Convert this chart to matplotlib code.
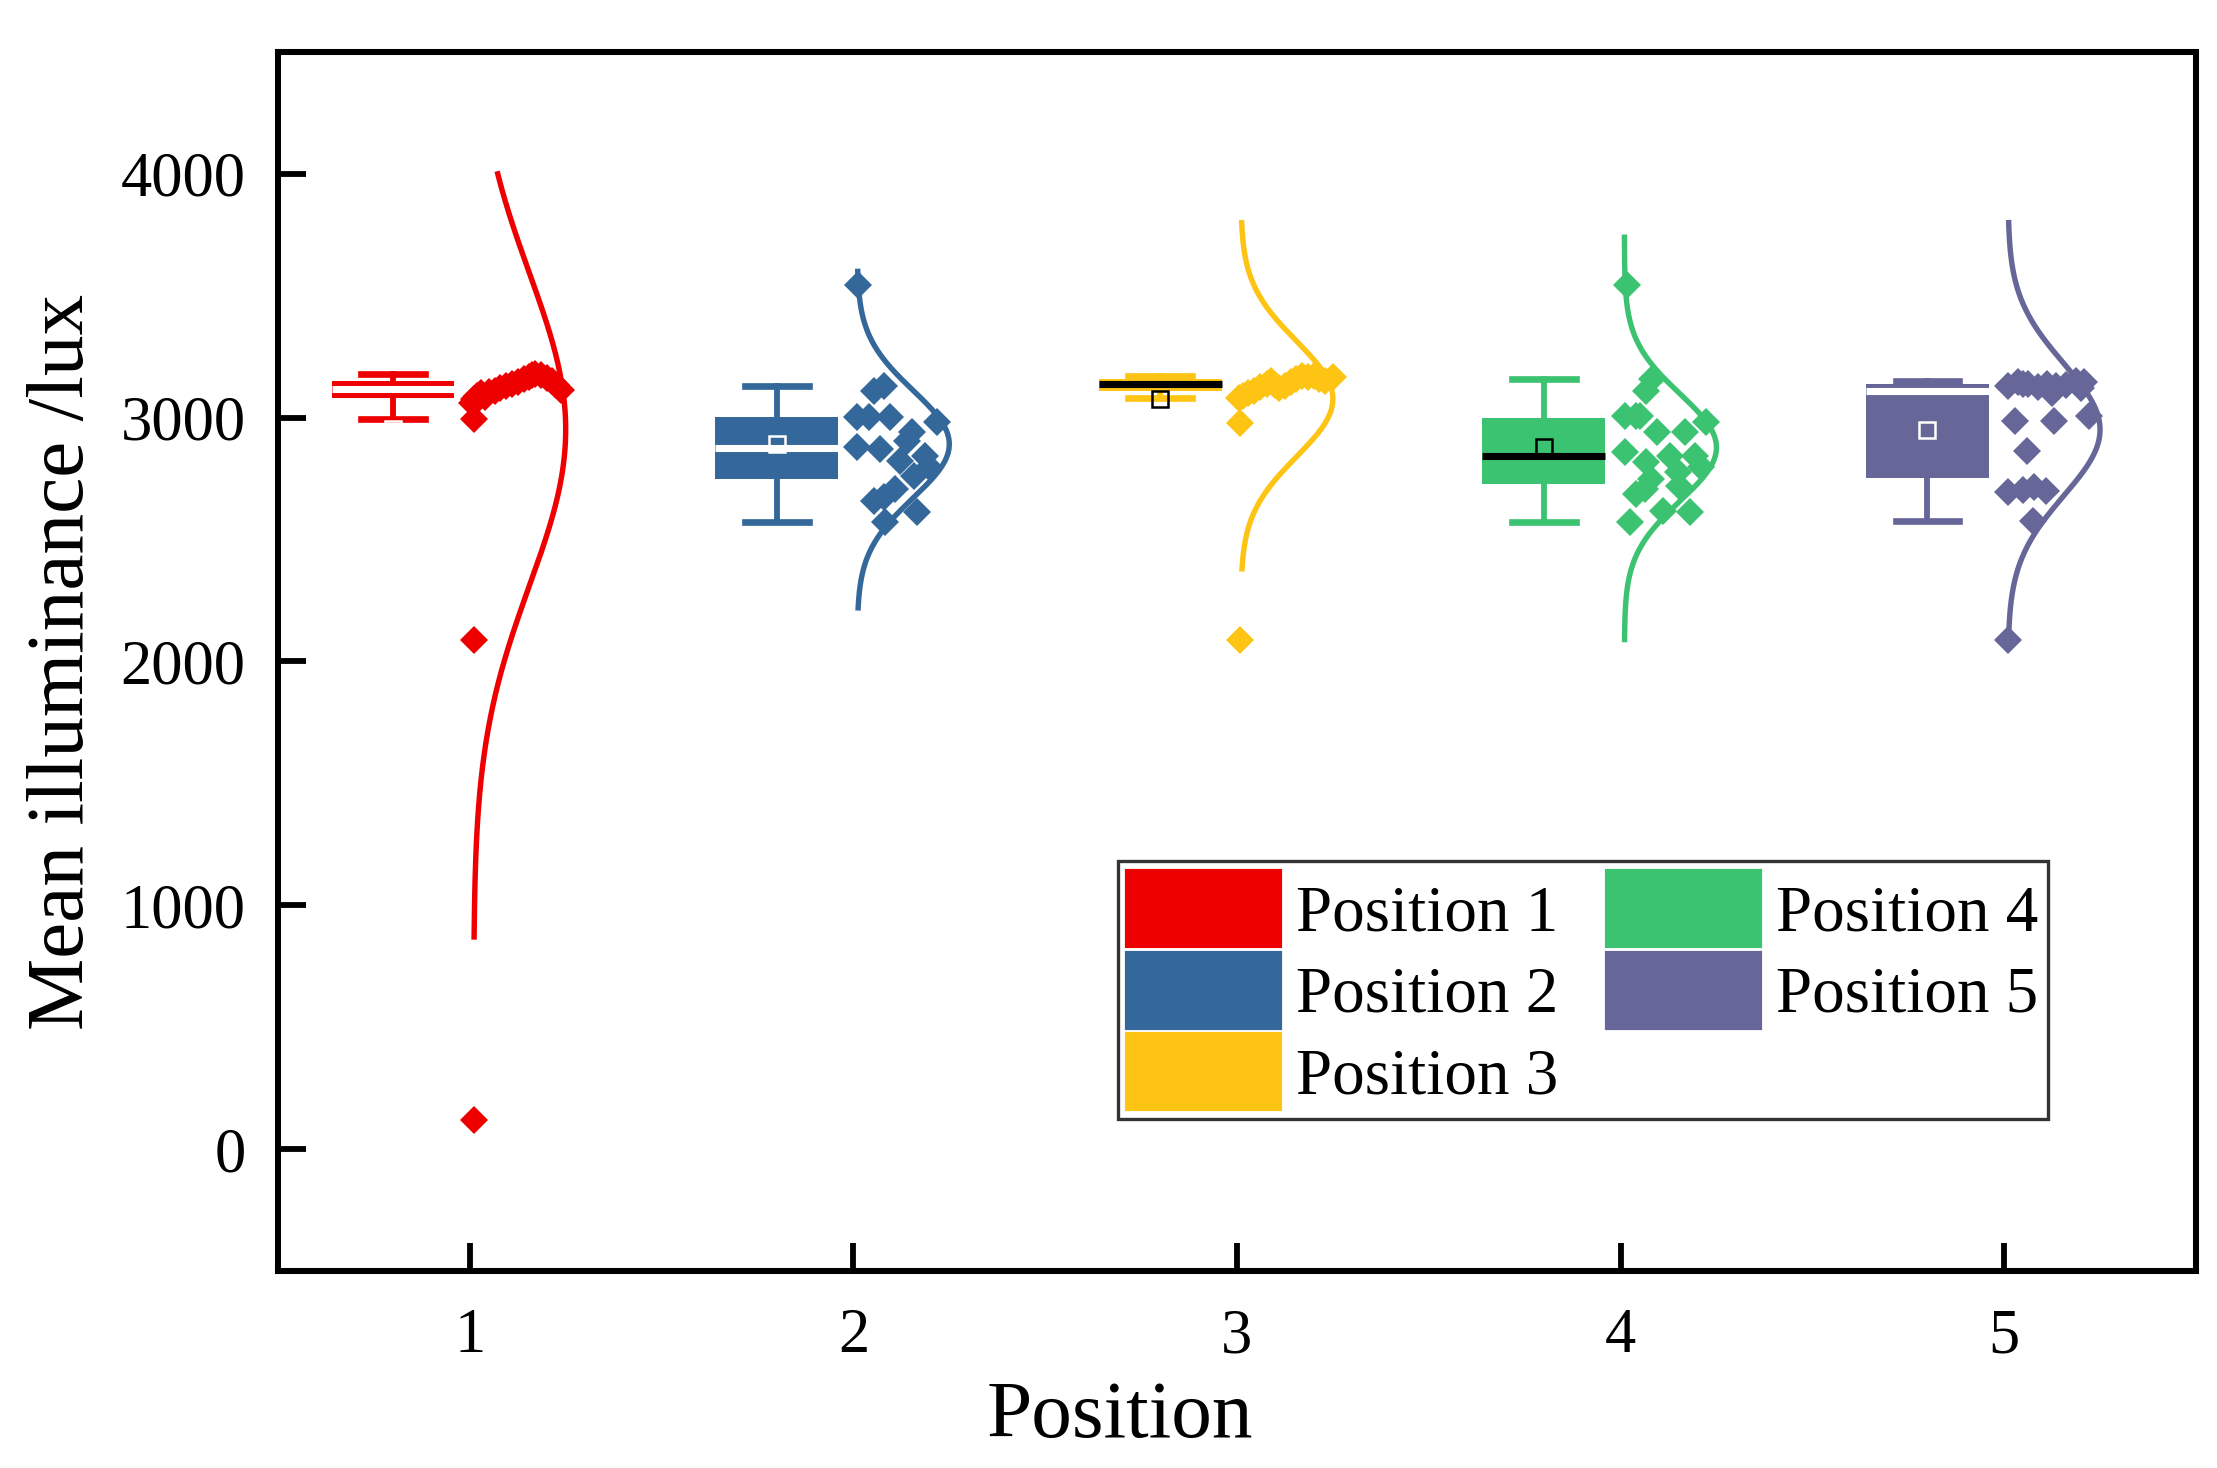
import numpy as np
import matplotlib.pyplot as plt
from matplotlib.patches import Patch

plt.rcParams['font.family'] = ['Liberation Serif', 'DejaVu Serif']

# ---- data ----
positions = [1, 2, 3, 4, 5]
labels = ['Position 1', 'Position 2', 'Position 3', 'Position 4', 'Position 5']

pos1_vals = [3060, 3075, 3090, 3070, 3100, 3085, 3105, 3110, 3120, 3128, 3138,
             3148, 3158, 3168, 3176, 3180, 3174, 3162, 3150, 3135, 3112,
             2995, 2090, 120]
pos2_vals = [3546, 3110, 3130, 3001, 3001, 3001, 2942, 2983, 2878, 2871, 2824,
             2844, 2797, 2762, 2708, 2660, 2674, 2615, 2572, 2905]
pos3_vals = [3080, 3090, 3100, 3110, 3125, 3140, 3150, 3135, 3120, 3130, 3145,
             3160, 3170, 3165, 3172, 3160, 3150, 3165, 2980, 2090]
pos4_vals = [3546, 3160, 3110, 3005, 3005, 3005, 2942, 2942, 2983, 2860, 2820,
             2844, 2844, 2797, 2776, 2749, 2688, 2708, 2721, 2619, 2615, 2572]
pos5_vals = [3130, 3145, 3140, 3125, 3140, 3100, 3130, 3135, 3150, 3120, 3145, 3138,
             2987, 2987, 3008, 2862, 2695, 2705, 2715, 2700, 2578, 2088]

# horizontal spread of the points (offset right of each tick)
pos1_jit = [0.005, 0.01, 0.02, 0.015, 0.03, 0.04, 0.05, 0.065, 0.08, 0.095, 0.11,
            0.125, 0.14, 0.155, 0.163, 0.17, 0.185, 0.2, 0.215, 0.225, 0.237,
            0.01, 0.01, 0.01]
pos2_jit = [0.011, 0.053, 0.079, 0.01, 0.04, 0.096, 0.153, 0.218, 0.01, 0.07, 0.122,
            0.187, 0.197, 0.157, 0.109, 0.053, 0.079, 0.165, 0.083, 0.14]
pos3_jit = [0.004, 0.015, 0.03, 0.045, 0.06, 0.077, 0.09, 0.1, 0.11, 0.125, 0.14,
            0.155, 0.17, 0.185, 0.2, 0.215, 0.23, 0.25, 0.008, 0.008]
pos4_jit = [0.018, 0.082, 0.067, 0.011, 0.041, 0.05, 0.095, 0.167, 0.224, 0.011, 0.067,
            0.128, 0.193, 0.21, 0.149, 0.08, 0.041, 0.063, 0.153, 0.111, 0.181, 0.024]
pos5_jit = [0.009, 0.035, 0.061, 0.087, 0.113, 0.125, 0.135, 0.161, 0.187, 0.2, 0.209, 0.05,
            0.027, 0.131, 0.222, 0.059, 0.009, 0.048, 0.079, 0.109, 0.074, 0.009]

# y-range of each distribution curve
curve_lo = [870, 2220, 2380, 2090, 2090]
curve_hi = [4000, 3600, 3800, 3740, 3800]

colors = ['#EE0000', '#34679A', '#FDC413', '#3CC371', '#666699']
median_colors = ['white', 'white', 'black', 'black', 'white']

all_vals = [pos1_vals, pos2_vals, pos3_vals, pos4_vals, pos5_vals]
all_jit = [pos1_jit, pos2_jit, pos3_jit, pos4_jit, pos5_jit]

fig = plt.figure(figsize=(2217 / 300, 1468 / 300), dpi=300)
ax = fig.add_axes([0.1254, 0.1342, 0.8651, 0.8304])

for i, (vals, jit) in enumerate(zip(all_vals, all_jit)):
    c = colors[i]
    x0 = positions[i]
    mc = median_colors[i]
    ax.boxplot(vals, positions=[x0 - 0.2], widths=0.32, patch_artist=True,
               showmeans=True, showfliers=False, whis=1.5, manage_ticks=False,
               capwidths=0.166,
               boxprops=dict(facecolor=c, edgecolor=c, linewidth=0),
               whiskerprops=dict(color=c, lw=1.4),
               capprops=dict(color=c, lw=1.6),
               medianprops=dict(color=mc, lw=1.7),
               meanprops=dict(marker='s', markerfacecolor='none', markeredgecolor=mc,
                              markersize=4, markeredgewidth=0.6))
    ax.plot(x0 + np.array(jit), vals, 'D', color=c, ms=4.6, mew=0, zorder=3)

    # normal curve from the data
    mu = np.mean(vals)
    sd = np.std(vals, ddof=1)
    yy = np.linspace(curve_lo[i], curve_hi[i], 400)
    ax.plot(x0 + 0.01 + 0.24 * np.exp(-0.5 * ((yy - mu) / sd) ** 2), yy,
            color=c, lw=1.3, zorder=2)

ax.set_xlim(0.5, 5.5)
ax.set_ylim(-500, 4500)
ax.set_xticks(positions)
ax.set_yticks([0, 1000, 2000, 3000, 4000])
ax.tick_params(direction='in', length=6.8, width=1.4, labelsize=15,
               top=False, right=False)
ax.tick_params(axis='y', pad=7.8)
ax.tick_params(axis='x', pad=9)
for s in ax.spines.values():
    s.set_linewidth(1.45)

ax.set_xlabel('Position', fontsize=19.5)
ax.xaxis.set_label_coords(0.439, -0.09)
ax.set_ylabel('Mean illuminance /lux', fontsize=19.5)
ax.yaxis.set_label_coords(-0.093, 0.5)

handles = [Patch(facecolor=c, edgecolor=c) for c in colors]
leg = ax.legend(handles, labels, ncol=2, loc='upper right', bbox_to_anchor=(0.923, 0.336),
                fontsize=15.6, handlelength=2.35, handleheight=1.4, labelspacing=0.1,
                handletextpad=0.25, columnspacing=0.75, borderpad=0.15, borderaxespad=0,
                fancybox=False, frameon=True)
leg.get_frame().set_edgecolor('black')
leg.get_frame().set_linewidth(0.8)

fig.savefig('out.png', dpi=300, facecolor='white')
